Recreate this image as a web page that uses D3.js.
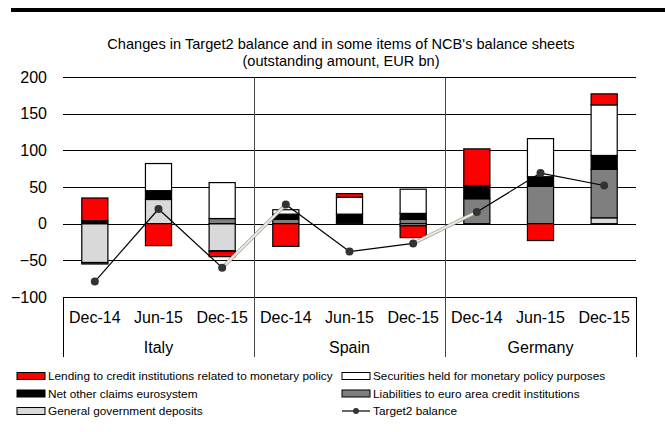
<!DOCTYPE html>
<html>
<head>
<meta charset="utf-8">
<script src="https://cdn.jsdelivr.net/npm/d3@7"></script>
<style>
body { margin: 0; background: #fff; }
svg { font-family: "Liberation Sans", Arial, sans-serif; }
</style>
</head>
<body>
<div id="chart"></div>
<script>
var countries = ["Italy", "Spain", "Germany"];
var periods = ["Dec-14", "Jun-15", "Dec-15"];

// one value per country/period, in the order Italy x3, Spain x3, Germany x3
var lending = [31, -30, -7, -31, 5, -16, 50, -23, 15];
var securities = [0, 37, 49, 6, 23, 33, 0, 52, 69];
var netOther = [4, 12, -1, 7, 11, 8, 18, 13, 19];
var liabilities = [-2, 0, 7, 6, 2, 6, 34, 51, 66];
var govDeposits = [-53, 33, -37, 0, 0, -3, 0, 0, 8];
var target2 = [-79, 20, -60, 26, -38, -27, 16, 69, 52];

var yTicks = [-100, -50, 0, 50, 100, 150, 200];

var series = [
	{key: "gov", name: "General government deposits", color: "#d9d9d9", values: govDeposits},
	{key: "liab", name: "Liabilities to euro area credit institutions", color: "#7f7f7f", values: liabilities},
	{key: "net", name: "Net other claims eurosystem", color: "#000000", values: netOther},
	{key: "sec", name: "Securities held for monetary policy purposes", color: "#ffffff", values: securities},
	{key: "lend", name: "Lending to credit institutions related to monetary policy", color: "#ff0000", values: lending}
];

var W = 665, H = 432;
var plot = {left: 63, right: 636, top: 77, bottom: 297};

var svg = d3.select("#chart")
	.append("svg")
	.attr("width", W)
	.attr("height", H);

// build rows for the stack
var rows = [];
countries.forEach(function(c, ci) {
	periods.forEach(function(p, pi) {
		var i = ci * 3 + pi;
		var row = {id: i, country: c, period: p};
		series.forEach(function(s) { row[s.key] = s.values[i]; });
		rows.push(row);
	});
});

var x = d3.scaleBand()
	.domain(rows.map(function(d) { return d.id; }))
	.range([plot.left, plot.right])
	.paddingInner(0.59)
	.paddingOuter(0.295);

var y = d3.scaleLinear()
	.domain([-100, 200])
	.range([plot.bottom, plot.top]);

// top rule
svg.append("rect")
	.attr("x", 11).attr("y", 8)
	.attr("width", W - 11).attr("height", 4)
	.attr("fill", "#000");

// title
var title = svg.append("text")
	.attr("text-anchor", "middle")
	.attr("font-size", "14.6px")
	.attr("fill", "#000");
title.append("tspan").attr("x", 341).attr("y", 49)
	.text("Changes in Target2 balance and in some items of NCB's balance sheets");
title.append("tspan").attr("x", 341).attr("y", 66)
	.text("(outstanding amount, EUR bn)");

// gridlines
svg.append("g")
	.selectAll("line")
	.data(yTicks).enter()
	.append("line")
		.attr("x1", plot.left).attr("x2", plot.right)
		.attr("y1", function(d) { return Math.round(y(d)) + 0.5; })
		.attr("y2", function(d) { return Math.round(y(d)) + 0.5; })
		.attr("stroke", "#000")
		.attr("stroke-width", 1);

// y axis labels
var yAxis = d3.axisLeft(y).tickValues(yTicks).tickSize(0).tickPadding(16);
var yg = svg.append("g")
	.attr("transform", "translate(" + plot.left + ",0)")
	.call(yAxis);
yg.select(".domain").remove();
yg.selectAll("text")
	.attr("font-size", "16px")
	.attr("font-family", "Liberation Sans, Arial, sans-serif")
	.attr("fill", "#000");

// category box below the plot
var boxBottom = 357;
var step = x.step();
var groupEdges = [plot.left, plot.left + step * 3, plot.left + step * 6, plot.right];
svg.append("g")
	.selectAll("line")
	.data(groupEdges).enter()
	.append("line")
		.attr("x1", function(d) { return Math.round(d) + 0.5; })
		.attr("x2", function(d) { return Math.round(d) + 0.5; })
		.attr("y1", function(d, i) { return (i == 0 || i == 3) ? plot.bottom : plot.top; })
		.attr("y2", boxBottom)
		.attr("stroke", function(d, i) { return (i == 0 || i == 3) ? "#000" : "#444"; })
		.attr("stroke-width", 1);

svg.append("g")
	.selectAll("text")
	.data(rows).enter()
	.append("text")
		.attr("x", function(d) { return x(d.id) + x.bandwidth() / 2; })
		.attr("y", 323)
		.attr("text-anchor", "middle")
		.attr("font-size", "16px")
		.text(function(d) { return d.period; });

svg.append("g")
	.selectAll("text")
	.data(countries).enter()
	.append("text")
		.attr("x", function(d, i) { return (groupEdges[i] + groupEdges[i + 1]) / 2; })
		.attr("y", 353)
		.attr("text-anchor", "middle")
		.attr("font-size", "16px")
		.text(function(d) { return d; });

// stacked bars
var stack = d3.stack()
	.keys(series.map(function(s) { return s.key; }))
	.offset(d3.stackOffsetDiverging);
var stacked = stack(rows);

var layers = svg.append("g")
	.selectAll("g")
	.data(stacked).enter()
	.append("g")
		.attr("fill", function(d, i) { return series[i].color; });

layers.selectAll("rect")
	.data(function(d) { return d.filter(function(p) { return p[1] - p[0] != 0; }); })
	.enter()
	.append("rect")
		.attr("x", function(d) { return x(d.data.id); })
		.attr("width", x.bandwidth())
		.attr("y", function(d) { return y(Math.max(d[0], d[1])); })
		.attr("height", function(d) { return Math.abs(y(d[0]) - y(d[1])); })
		.attr("stroke", "#000")
		.attr("stroke-width", 1.2);

// target2 line: segments inside a country in black, between countries pale
var pts = rows.map(function(d, i) {
	return {x: x(d.id) + x.bandwidth() / 2, y: y(target2[i]), c: d.country};
});
var segs = [];
for (var i = 0; i < pts.length - 1; i++) {
	segs.push({a: pts[i], b: pts[i + 1], cross: pts[i].c != pts[i + 1].c});
}
var lineG = svg.append("g");
lineG.selectAll("line.under")
	.data(segs.filter(function(s) { return s.cross; })).enter()
	.append("line")
		.attr("x1", function(s) { return s.a.x; }).attr("y1", function(s) { return s.a.y; })
		.attr("x2", function(s) { return s.b.x; }).attr("y2", function(s) { return s.b.y; })
		.attr("stroke", "#a09d94")
		.attr("stroke-width", 3.5);
lineG.selectAll("line.seg")
	.data(segs).enter()
	.append("line")
		.attr("x1", function(s) { return s.a.x; }).attr("y1", function(s) { return s.a.y; })
		.attr("x2", function(s) { return s.b.x; }).attr("y2", function(s) { return s.b.y; })
		.attr("stroke", function(s) { return s.cross ? "#efece2" : "#000"; })
		.attr("stroke-width", function(s) { return s.cross ? 2 : 1.2; });
lineG.selectAll("circle")
	.data(pts).enter()
	.append("circle")
		.attr("cx", function(d) { return d.x; })
		.attr("cy", function(d) { return d.y; })
		.attr("r", 4)
		.attr("fill", "#333");

// legend
var legendItems = [
	{name: series[4].name, color: series[4].color, col: 0, row: 0},
	{name: series[3].name, color: series[3].color, col: 1, row: 0},
	{name: series[2].name, color: series[2].color, col: 0, row: 1},
	{name: series[1].name, color: series[1].color, col: 1, row: 1},
	{name: series[0].name, color: series[0].color, col: 0, row: 2},
	{name: "Target2 balance", line: true, col: 1, row: 2}
];
var colX = [17, 342];
var rowY = [376, 393.5, 411];

var legend = svg.append("g")
	.selectAll("g")
	.data(legendItems).enter()
	.append("g")
		.attr("transform", function(d) { return "translate(" + colX[d.col] + "," + rowY[d.row] + ")"; });

legend.filter(function(d) { return !d.line; })
	.append("rect")
		.attr("x", 0).attr("y", -3.5)
		.attr("width", 28).attr("height", 7)
		.attr("fill", function(d) { return d.color; })
		.attr("stroke", "#000")
		.attr("stroke-width", 1);

legend.filter(function(d) { return d.line; })
	.append("line")
		.attr("x1", 0).attr("x2", 28)
		.attr("y1", 0).attr("y2", 0)
		.attr("stroke", "#000").attr("stroke-width", 1.2);
legend.filter(function(d) { return d.line; })
	.append("circle")
		.attr("cx", 14).attr("cy", 0).attr("r", 3)
		.attr("fill", "#333");

legend.append("text")
	.attr("x", 31)
	.attr("y", 4)
	.attr("font-size", "11.8px")
	.text(function(d) { return d.name; });
</script>
</body>
</html>
